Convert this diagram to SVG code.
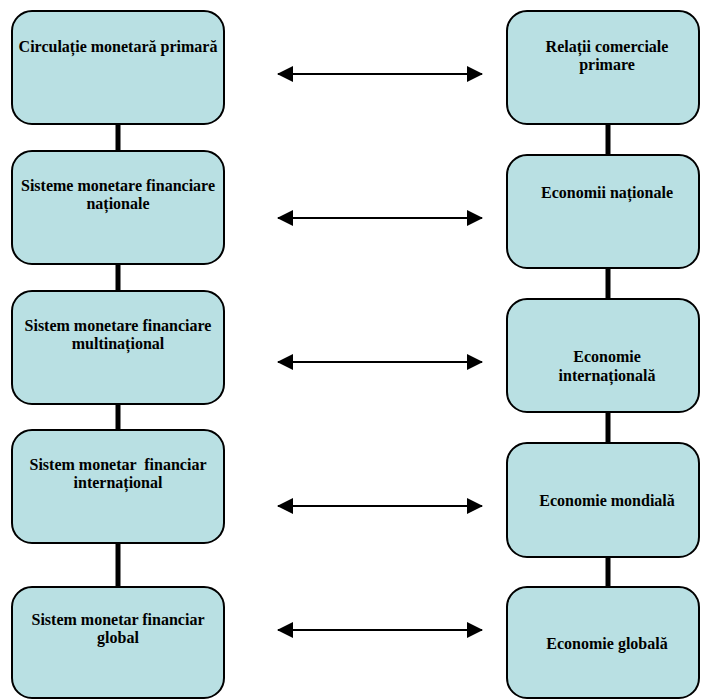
<svg xmlns="http://www.w3.org/2000/svg" width="701" height="699" viewBox="0 0 701 699">
<style>
.box{fill:#b9e0e3;stroke:#000;stroke-width:2}
.v{stroke:#000;stroke-width:5}
.a{stroke:#000;stroke-width:2;marker-start:url(#ah);marker-end:url(#ah)}
</style>
<defs>
<marker id="ah" viewBox="0 0 16 16" refX="15" refY="8" markerWidth="16" markerHeight="16" markerUnits="userSpaceOnUse" orient="auto-start-reverse">
<path d="M0,0 L16,8 L0,16 Z" fill="#000"/>
</marker>
</defs>
<rect width="701" height="699" fill="#fff"/>
<g id="connectors">
<line class="v" x1="118" y1="124" x2="118" y2="151"/>
<line class="v" x1="118" y1="264" x2="118" y2="291"/>
<line class="v" x1="118" y1="404" x2="118" y2="430"/>
<line class="v" x1="118" y1="543" x2="118" y2="587"/>
<line class="v" x1="608" y1="124" x2="608" y2="155"/>
<line class="v" x1="608" y1="268" x2="608" y2="299"/>
<line class="v" x1="608" y1="412" x2="608" y2="443"/>
<line class="v" x1="608" y1="557" x2="608" y2="587"/>
<line class="a" x1="278" y1="74" x2="482" y2="74"/>
<line class="a" x1="278" y1="218" x2="482" y2="218"/>
<line class="a" x1="278" y1="362" x2="482" y2="362"/>
<line class="a" x1="278" y1="506" x2="482" y2="506"/>
<line class="a" x1="278" y1="630" x2="482" y2="630"/>
</g>
<g font-family="Liberation Serif, Times New Roman, serif" font-weight="bold" font-size="16" text-anchor="middle" fill="#000">
<g id="l1"><rect class="box" x="12" y="11" width="212" height="113" rx="20"/><text x="118" y="52">Circulație monetară primară</text></g>
<g id="l2"><rect class="box" x="12" y="151" width="212" height="113" rx="20"/><text x="118" y="191">Sisteme monetare financiare</text><text x="118" y="209">naționale</text></g>
<g id="l3"><rect class="box" x="12" y="291" width="212" height="113" rx="20"/><text x="118" y="331">Sistem monetare financiare</text><text x="118" y="349">multinațional</text></g>
<g id="l4"><rect class="box" x="12" y="430" width="212" height="113" rx="20"/><text x="118" y="470" xml:space="preserve">Sistem monetar  financiar</text><text x="118" y="488">internațional</text></g>
<g id="l5"><rect class="box" x="12" y="587" width="212" height="111" rx="20"/><text x="118" y="625">Sistem monetar financiar</text><text x="118" y="643">global</text></g>
<g id="r1"><rect class="box" x="507" y="11" width="192" height="113" rx="20"/><text x="607" y="52">Relații comerciale</text><text x="607" y="70">primare</text></g>
<g id="r2"><rect class="box" x="507" y="155" width="192" height="113" rx="20"/><text x="607" y="198">Economii naționale</text></g>
<g id="r3"><rect class="box" x="507" y="299" width="192" height="113" rx="20"/><text x="607" y="362">Economie</text><text x="607" y="381">internațională</text></g>
<g id="r4"><rect class="box" x="507" y="443" width="192" height="114" rx="20"/><text x="607" y="506">Economie mondială</text></g>
<g id="r5"><rect class="box" x="507" y="587" width="192" height="111" rx="20"/><text x="607" y="649">Economie globală</text></g>
</g>
</svg>
